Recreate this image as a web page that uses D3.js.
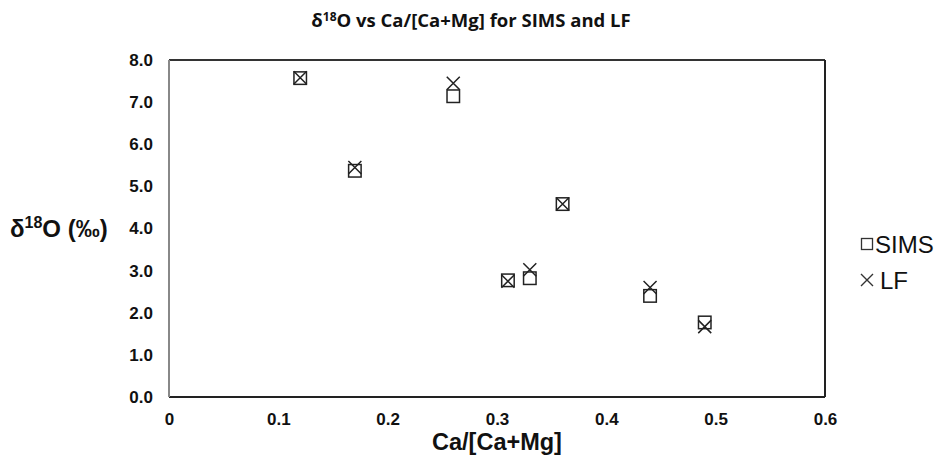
<!DOCTYPE html>
<html><head><meta charset="utf-8">
<script src="https://cdn.jsdelivr.net/npm/d3@7"></script>
<style>body{margin:0;background:#fff}</style>
</head><body>
<script>
const xVals = [0.12, 0.17, 0.26, 0.31, 0.33, 0.36, 0.44, 0.49];
const simsVals = [7.57, 5.37, 7.14, 2.77, 2.82, 4.58, 2.40, 1.77];
const lfVals = [7.58, 5.45, 7.45, 2.75, 3.02, 4.58, 2.60, 1.67];
const xTicks = [0, 0.1, 0.2, 0.3, 0.4, 0.5, 0.6];
const yTicks = [0, 1, 2, 3, 4, 5, 6, 7, 8];
const seriesNames = ["SIMS", "LF"];

const W = 948, H = 465;
const svg = d3.select("body").append("svg").attr("width", W).attr("height", H);
const x = d3.scaleLinear().domain([0, 0.6]).range([169, 825]);
const y = d3.scaleLinear().domain([0, 8]).range([397, 60]);
const arial = "Arial, 'Liberation Sans', sans-serif";

// title
const t = svg.append("text").attr("x", 471).attr("y", 27).attr("text-anchor", "middle")
  .attr("font-family", "'Open Sans', sans-serif").attr("font-weight", "bold").attr("font-size", 18.5).attr("fill", "#111");
t.append("tspan").text("δ");
t.append("tspan").attr("font-size", 12).attr("dy", -6).text("18");
t.append("tspan").attr("dy", 6).text("O vs Ca/[Ca+Mg] for SIMS and LF");

// axes
const xAxis = d3.axisBottom(x).tickValues(xTicks).tickSize(0).tickPadding(16)
  .tickFormat(d => d === 0 ? "0" : d3.format(".1f")(d));
const gx = svg.append("g").attr("transform", "translate(0,397)").call(xAxis);
const yAxis = d3.axisLeft(y).tickValues(yTicks).tickSize(0).tickPadding(16).tickFormat(d3.format(".1f"));
const gy = svg.append("g").attr("transform", "translate(169,0)").call(yAxis);
[gx, gy].forEach(g => {
  g.select(".domain").remove();
  g.selectAll("text").attr("font-family", arial)
    .attr("font-weight", "bold").attr("font-size", 17).attr("fill", "#111");
});

// frame
svg.append("line").attr("x1", x(0)).attr("x2", x(0.6)).attr("y1", y(8)).attr("y2", y(8)).attr("stroke", "#333").attr("stroke-width", 2);
svg.append("line").attr("x1", x(0.6)).attr("x2", x(0.6)).attr("y1", y(8)).attr("y2", y(0)).attr("stroke", "#222").attr("stroke-width", 2);
svg.append("line").attr("x1", x(0)).attr("x2", x(0.6)).attr("y1", y(0)).attr("y2", y(0)).attr("stroke", "#222").attr("stroke-width", 2);
svg.append("line").attr("x1", x(0)).attr("x2", x(0)).attr("y1", y(8)).attr("y2", y(0)).attr("stroke", "#888").attr("stroke-width", 2);

// axis titles
svg.append("text").attr("x", 497).attr("y", 450).attr("text-anchor", "middle")
  .attr("font-family", arial).attr("font-weight", "bold").attr("font-size", 23.5).attr("fill", "#111")
  .text("Ca/[Ca+Mg]");
const yt = svg.append("text").attr("x", 10).attr("y", 237)
  .attr("font-family", arial).attr("font-weight", "bold").attr("font-size", 24).attr("fill", "#111");
yt.append("tspan").text("δ");
yt.append("tspan").attr("font-size", 16).attr("dy", -9).text("18");
yt.append("tspan").attr("dy", 9).text("O (‰)");

const sq = 12.5, xs = 6.5;
// SIMS squares
svg.append("g").selectAll("rect").data(xVals.map((v, i) => [v, simsVals[i]])).join("rect")
  .attr("x", d => x(d[0]) - sq / 2).attr("y", d => y(d[1]) - sq / 2)
  .attr("width", sq).attr("height", sq).attr("fill", "none").attr("stroke", "#222").attr("stroke-width", 1.5);
// LF crosses
svg.append("g").selectAll("path").data(xVals.map((v, i) => [v, lfVals[i]])).join("path")
  .attr("d", d => {
    const cx = x(d[0]), cy = y(d[1]);
    return `M${cx - xs},${cy - xs}L${cx + xs},${cy + xs}M${cx - xs},${cy + xs}L${cx + xs},${cy - xs}`;
  })
  .attr("fill", "none").attr("stroke", "#222").attr("stroke-width", 1.5);

// legend
const lg = svg.append("g");
seriesNames.forEach((name, i) => {
  const cy = 244 + i * 36, cx = 867;
  if (i === 0) {
    lg.append("rect").attr("x", cx - 5.5).attr("y", cy - 5.5).attr("width", 11).attr("height", 11)
      .attr("fill", "none").attr("stroke", "#333").attr("stroke-width", 1.3);
  } else {
    lg.append("path").attr("d", `M${cx - 6},${cy - 6}L${cx + 6},${cy + 6}M${cx - 6},${cy + 6}L${cx + 6},${cy - 6}`)
      .attr("stroke", "#333").attr("stroke-width", 1.4);
  }
  lg.append("text").attr("x", i === 0 ? 875 : 880).attr("y", cy + 8.5).attr("font-family", arial)
    .attr("font-size", 24).attr("fill", "#111").text(name);
});
</script>
</body></html>
